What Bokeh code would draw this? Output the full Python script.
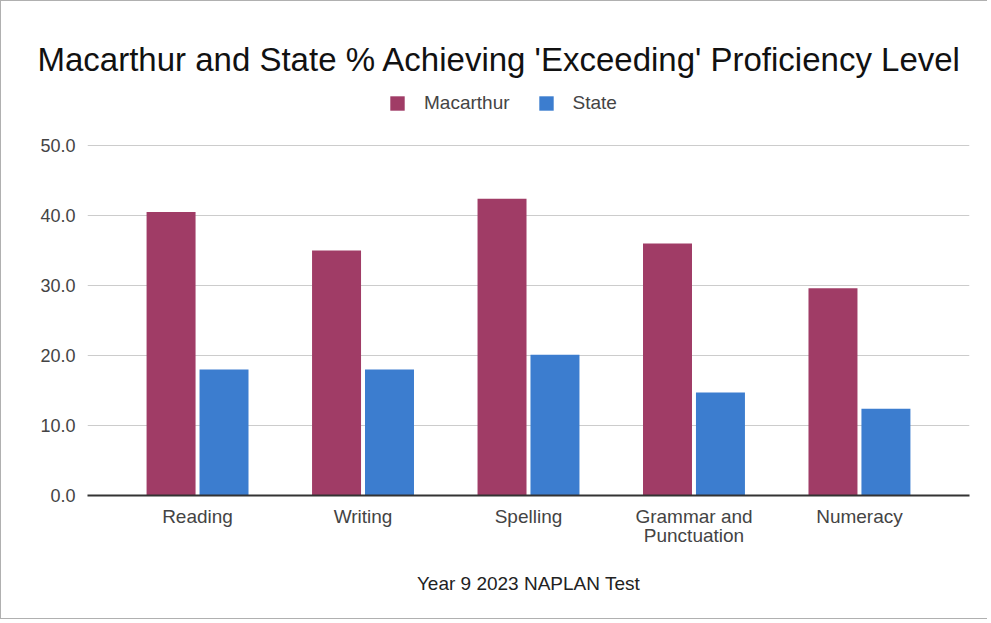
from bokeh.plotting import figure
from bokeh.models import (FactorRange, Range1d, FixedTicker, NumeralTickFormatter,
                          Legend, LegendItem, ColumnDataSource, Title)
from bokeh.transform import dodge
from bokeh.embed import file_html
from bokeh.resources import INLINE

categories = ["Reading", "Writing", "Spelling", "Grammar and\nPunctuation", "Numeracy"]
macarthur = [40.5, 35.0, 42.4, 36.0, 29.6]
state = [18.0, 18.0, 20.1, 14.7, 12.4]
y_ticks = [0, 10, 20, 30, 40, 50]
title_text = "Macarthur and State % Achieving 'Exceeding' Proficiency Level"
x_title = "Year 9 2023 NAPLAN Test"

FONT = "Liberation Sans"
MAROON = "#a03c66"
BLUE = "#3c7dcf"

src = ColumnDataSource(dict(cat=categories, mac=macarthur, st=state))

# frame extends a little above the 50 gridline so that the legend can sit inside it
p = figure(width=987, height=619, output_backend="svg", toolbar_location=None,
           x_range=FactorRange(factors=categories, range_padding=0.165,
                               range_padding_units="absolute"),
           y_range=Range1d(0, 58.571),
           min_border_left=86, min_border_right=19, min_border_top=84,
           min_border_bottom=125)
p.styles = {"border-left": "1px solid #b0b0b0", "border-top": "1px solid #b0b0b0",
            "border-bottom": "1px solid #b0b0b0"}

r1 = p.vbar(x=dodge("cat", -0.16, range=p.x_range), top="mac", width=0.296,
            source=src, fill_color=MAROON, line_color=None)
r2 = p.vbar(x=dodge("cat", 0.16, range=p.x_range), top="st", width=0.296,
            source=src, fill_color=BLUE, line_color=None)

p.outline_line_color = None
p.background_fill_color = "white"
p.border_fill_color = "white"

p.xgrid.grid_line_color = None
p.ygrid.grid_line_color = "#cccccc"
p.ygrid.grid_line_width = 1
p.yaxis.ticker = FixedTicker(ticks=y_ticks)
p.yaxis.formatter = NumeralTickFormatter(format="0.0")
p.yaxis.axis_line_color = None
p.yaxis.major_tick_line_color = None
p.yaxis.minor_tick_line_color = None
p.yaxis.major_label_standoff = 6
p.yaxis.major_label_text_font = FONT
p.yaxis.major_label_text_font_size = "18px"
p.yaxis.major_label_text_color = "#444444"

p.xaxis.axis_line_color = "#333333"
p.xaxis.axis_line_width = 2
p.xaxis.major_tick_line_color = None
p.xaxis.minor_tick_line_color = None
p.xaxis.major_label_standoff = 4
p.xaxis.major_label_text_font = FONT
p.xaxis.major_label_text_font_size = "19px"
p.xaxis.major_label_text_line_height = 0.95
p.xaxis.major_label_text_color = "#444444"
p.xaxis.axis_label = x_title
p.xaxis.axis_label_standoff = 24
p.xaxis.axis_label_text_font = FONT
p.xaxis.axis_label_text_font_size = "19px"
p.xaxis.axis_label_text_font_style = "normal"
p.xaxis.axis_label_text_color = "#222222"

p.add_layout(Title(text=title_text, align="left", offset=-50, standoff=16,
                   text_font=FONT, text_font_size="33px", text_font_style="normal",
                   text_color="#111111"), "above")

legend = Legend(items=[LegendItem(label="Macarthur", renderers=[r1]),
                       LegendItem(label="State", renderers=[r2])],
                orientation="horizontal", location=(301, 381),
                glyph_width=18, glyph_height=18, label_standoff=18, spacing=27,
                padding=0, margin=0, border_line_color=None,
                background_fill_alpha=0,
                label_text_font=FONT, label_text_font_size="19px",
                label_text_color="#444444")
p.add_layout(legend)

open("out.html", "w").write(file_html(p, INLINE))
